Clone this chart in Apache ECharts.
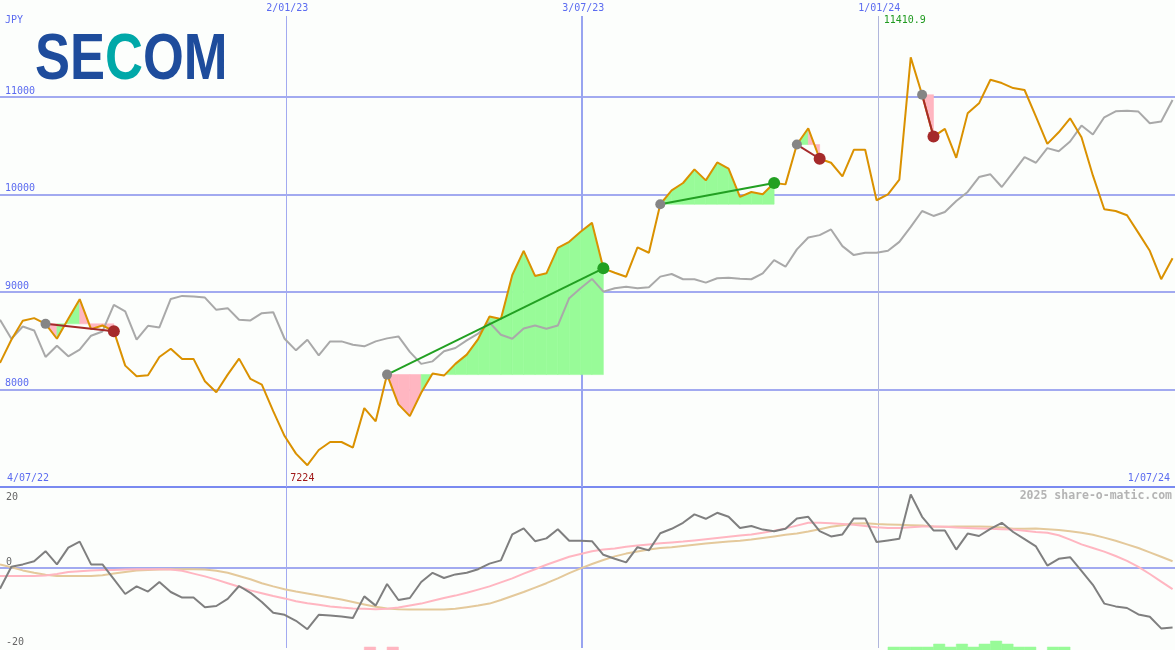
<!DOCTYPE html>
<html><head><meta charset="utf-8">
<script src="https://cdn.jsdelivr.net/npm/echarts@6/dist/echarts.min.js"></script>
<style>html,body{margin:0;padding:0;background:#fcfefc}#c{width:1175px;height:650px}</style>
</head><body><div id="c"></div>
<script>
// ---------- data ----------
const firstWeek = '2022-07-10';          // date of the first weekly point
const axisEnd = '2024-07-01';            // right edge of the time axis
const periodDates = ['2022-07-04', '2024-07-01'];
const dateMarks = ['2023-01-02', '2023-07-03', '2024-01-01'];
const currencyLabel = 'JPY';
const priceGridLines = [8000, 9000, 10000, 11000];
const oscLabels = [20, 0, -20];
const oscGridLines = [0];
const watermark = '2025 share-o-matic.com';

const price = [8274, 8512, 8706, 8734, 8675, 8522, 8727, 8928, 8621, 8658,
 8600, 8246, 8137, 8147, 8335, 8420, 8315, 8315, 8086, 7973,
 8154, 8318, 8110, 8052, 7779, 7523, 7343, 7224, 7380, 7462,
 7462, 7405, 7810, 7674, 8154, 7848, 7728, 7967, 8165, 8144,
 8264, 8359, 8519, 8750, 8724, 9177, 9425, 9167, 9194, 9456,
 9517, 9620, 9712, 9245, 9200, 9159, 9460, 9405, 9903, 10046,
 10121, 10261, 10148, 10332, 10268, 9978, 10029, 10005, 10121, 10107,
 10516, 10683, 10370, 10329, 10189, 10462, 10462, 9944, 10005, 10155,
 11410.9, 11027, 10598, 10677, 10380, 10836, 10939, 11181, 11147, 11096,
 11076, 10803, 10523, 10642, 10785, 10591, 10199, 9852, 9834, 9790,
 9609, 9425, 9133, 9348];

const relative = [8717, 8522, 8648, 8607, 8335, 8451, 8342, 8410, 8553, 8597,
 8870, 8802, 8512, 8655, 8638, 8931, 8962, 8955, 8945, 8819,
 8836, 8717, 8710, 8785, 8795, 8522, 8403, 8512, 8352, 8495,
 8495, 8461, 8444, 8495, 8526, 8546, 8387, 8264, 8290, 8393,
 8427, 8505, 8574, 8689, 8563, 8522, 8628, 8658, 8625, 8658,
 8939, 9041, 9136, 9006, 9041, 9057, 9041, 9051, 9160, 9187,
 9133, 9133, 9098, 9143, 9149, 9139, 9133, 9194, 9330, 9262,
 9440, 9562, 9586, 9644, 9473, 9381, 9405, 9405, 9425, 9517,
 9671, 9834, 9783, 9824, 9937, 10029, 10182, 10210, 10080, 10233,
 10387, 10329, 10479, 10448, 10547, 10711, 10619, 10796, 10857, 10864,
 10854, 10734, 10752, 10973];

const momentum = [-5.2, 0.3, 0.9, 1.7, 4.2, 0.9, 5.1, 6.6, 0.9, 0.9,
 -2.8, -6.5, -4.6, -5.9, -3.5, -6.0, -7.4, -7.4, -9.8, -9.5,
 -7.7, -4.5, -6.2, -8.5, -11.2, -11.7, -13.2, -15.3, -11.7, -11.9,
 -12.1, -12.5, -7.1, -9.4, -4.0, -8.0, -7.5, -3.5, -1.2, -2.5,
 -1.6, -1.2, -0.3, 1.1, 1.9, 8.4, 9.9, 6.7, 7.4, 9.7,
 6.8, 6.8, 6.7, 3.3, 2.3, 1.4, 5.2, 4.4, 8.7, 9.8,
 11.3, 13.4, 12.3, 13.8, 12.8, 10.0, 10.5, 9.6, 9.2, 9.8,
 12.4, 12.8, 9.2, 7.9, 8.4, 12.4, 12.4, 6.5, 6.9, 7.3,
 18.4, 12.8, 9.4, 9.4, 4.6, 8.6, 8.0, 9.8, 11.3, 9.0,
 7.2, 5.4, 0.6, 2.3, 2.7, -0.7, -4.2, -8.9, -9.6, -10.0,
 -11.6, -12.2, -15.1, -14.9];

const avgFast = [-2.0, -2.0, -2.0, -2.0, -1.9, -1.5, -1.0, -0.8, -0.6, -0.5,
 -0.5, -0.4, -0.3, -0.3, -0.3, -0.4, -0.7, -1.4, -2.1, -2.9,
 -3.8, -4.7, -5.6, -6.3, -7.0, -7.6, -8.3, -8.8, -9.2, -9.6,
 -9.9, -10.1, -10.2, -10.3, -10.2, -9.9, -9.4, -8.9, -8.2, -7.5,
 -6.9, -6.2, -5.4, -4.6, -3.6, -2.6, -1.4, -0.3, 0.8, 1.8,
 2.8, 3.5, 4.2, 4.6, 4.9, 5.3, 5.6, 5.9, 6.2, 6.4,
 6.6, 6.9, 7.2, 7.5, 7.8, 8.1, 8.4, 8.8, 9.3, 9.9,
 10.6, 11.3, 11.3, 11.2, 11.0, 10.8, 10.5, 10.2, 10.0, 10.0,
 10.2, 10.4, 10.4, 10.3, 10.1, 10.0, 9.9, 9.8, 9.7, 9.6,
 9.3, 9.0, 8.8, 8.2, 7.1, 5.9, 5.0, 4.1, 3.0, 1.8,
 0.3, -1.5, -3.4, -5.3];

const avgSlow = [0.9, 0.2, -0.6, -1.2, -1.7, -2.0, -2.0, -2.0, -2.0, -1.8,
 -1.4, -1.0, -0.6, -0.5, -0.4, -0.3, -0.3, -0.3, -0.4, -0.7,
 -1.2, -2.0, -2.8, -3.8, -4.6, -5.3, -5.9, -6.4, -6.9, -7.4,
 -7.9, -8.5, -9.1, -9.7, -10.1, -10.3, -10.4, -10.4, -10.4, -10.4,
 -10.2, -9.8, -9.4, -8.9, -8.0, -7.0, -6.0, -4.9, -3.8, -2.6,
 -1.3, -0.1, 1.0, 2.0, 2.9, 3.6, 4.1, 4.6, 5.0, 5.2,
 5.5, 5.8, 6.1, 6.4, 6.6, 6.8, 7.1, 7.5, 7.9, 8.3,
 8.6, 9.1, 9.7, 10.3, 10.7, 11.1, 11.2, 11.0, 10.9, 10.8,
 10.7, 10.6, 10.4, 10.3, 10.4, 10.4, 10.4, 10.3, 10.1, 9.8,
 9.8, 9.9, 9.7, 9.5, 9.2, 8.8, 8.3, 7.6, 6.8, 5.9,
 5.0, 3.9, 2.8, 1.7];

// trades: [entry week, exit week]
const trades = [[4, 10], [34, 53], [58, 68], [70, 72], [81, 82]];
// signal bars: [week, level]  (+ = buy / green, - = sell / pink)
const signals = [[32, -1], [34, -1], [78, 1], [79, 1], [80, 1], [81, 1], [82, 2], [83, 1], [84, 2], [85, 1],
 [86, 2], [87, 3], [88, 2], [89, 1], [90, 1], [92, 1], [93, 1]];

// ---------- styles ----------
const BLUE = '#5b6bf0';
const GRIDC = '#a2aaf0';
const GREEN = '#98fb98';
const PINK = '#ffb6c1';
const FONT = '10px "DejaVu Sans Mono"';
const dateMarkStyles = [{color: '#a2aaf0', width: 1}, {color: '#98a4f0', width: 2}, {color: '#b0b6dc', width: 1}];

// ---------- helpers ----------
const DAY = 86400000, WEEK = 7 * DAY;
const T0 = Date.parse(firstWeek);
const weekTime = k => T0 + k * WEEK;
const X_MIN = T0, X_MAX = Date.parse(axisEnd) + DAY / 2;
const dateMarkTs = dateMarks.map(d => Date.parse(d));
const periodTs = periodDates.map(d => Date.parse(d));
const fmtDate = t => { const d = new Date(t); return d.getUTCDate() + '/' + String(d.getUTCMonth() + 1).padStart(2, '0') + '/' + String(d.getUTCFullYear()).slice(2); };
const series2 = arr => arr.map((v, k) => [weekTime(k), v]);

function hLineItem(params, api) {
  const cs = params.coordSys;
  const y = Math.round(api.coord([api.value(0), api.value(1)])[1]);
  return {type: 'line', shape: {x1: cs.x, y1: y, x2: cs.x + cs.width, y2: y}, style: {stroke: GRIDC, lineWidth: 2}};
}
function vLineItem(top) {
  return function (params, api) {
    const cs = params.coordSys;
    const st = dateMarkStyles[params.dataIndex];
    let x = api.coord([api.value(0), api.value(1)])[0];
    x = st.width % 2 ? Math.round(x - 0.5) + 0.5 : Math.round(x);
    return {type: 'line', shape: {x1: x, y1: cs.y + top, x2: x, y2: cs.y + cs.height}, style: {stroke: st.color, lineWidth: st.width}};
  };
}
function fillItem(params, api) {
  const [e, x] = trades[params.dataIndex];
  const base = price[e];
  const kids = [];
  for (let k = e; k < x; k++) {
    const pts = [api.coord([weekTime(k), base]), api.coord([weekTime(k), price[k]]),
                 api.coord([weekTime(k + 1), price[k + 1]]), api.coord([weekTime(k + 1), base])];
    const c = price[k + 1] >= base ? GREEN : PINK;
    kids.push({type: 'polygon', shape: {points: pts}, style: {fill: c, stroke: c, lineWidth: 0.6}});
  }
  return {type: 'group', children: kids};
}
function tradeItem(params, api) {
  const [e, x] = trades[params.dataIndex];
  const p0 = api.coord([weekTime(e), price[e]]);
  const p1 = api.coord([weekTime(x), price[x]]);
  const col = price[x] > price[e] ? '#22a022' : '#a52a2a';
  return {type: 'group', children: [
    {type: 'line', shape: {x1: p0[0], y1: p0[1], x2: p1[0], y2: p1[1]}, style: {stroke: col, lineWidth: 2}},
    {type: 'circle', shape: {cx: p0[0], cy: p0[1], r: 5}, style: {fill: '#858585'}},
    {type: 'circle', shape: {cx: p1[0], cy: p1[1], r: 6}, style: {fill: col}}
  ]};
}
function barItem(params, api) {
  const [k, lvl] = signals[params.dataIndex];
  const p0 = api.coord([weekTime(k), Math.abs(lvl)]);
  const p1 = api.coord([weekTime(k + 1), 0]);
  const c = lvl > 0 ? GREEN : PINK;
  return {type: 'rect', shape: {x: p0[0], y: p0[1], width: p1[0] - p0[0], height: p1[1] - p0[1]}, style: {fill: c, stroke: c, lineWidth: 0.5}};
}
const lineS = (xi, data, color, z) => ({type: 'line', xAxisIndex: xi, yAxisIndex: xi, data, z, showSymbol: false, symbol: 'none',
  silent: true, lineStyle: {color, width: 2}, emphasis: {disabled: true}, animation: false});

const chart = echarts.init(document.getElementById('c'));
chart.setOption({
  animation: false,
  backgroundColor: '#fcfefc',
  grid: [
    {left: 0, right: 0, top: 0, height: 487, outerBoundsMode: 'none'},
    {left: 0, right: 0, top: 488, height: 160, outerBoundsMode: 'none'},
    {left: 0, right: 0, top: 488, height: 162, outerBoundsMode: 'none'}
  ],
  xAxis: [
    {gridIndex: 0, type: 'time', min: X_MIN, max: X_MAX, axisLine: {show: true, onZero: false, lineStyle: {color: '#7a8af0', width: 2}},
      axisTick: {show: false}, axisLabel: {show: false}, splitLine: {show: false}},
    {gridIndex: 1, type: 'time', min: X_MIN, max: X_MAX, show: false},
    {gridIndex: 2, type: 'time', min: X_MIN, max: X_MAX, show: false}
  ],
  yAxis: [
    {gridIndex: 0, type: 'value', min: 7000, max: 12000, show: false},
    {gridIndex: 1, type: 'value', min: -20, max: 20, show: false},
    {gridIndex: 2, type: 'value', min: 0, max: 54, show: false}
  ],
  series: [
    {type: 'custom', xAxisIndex: 0, yAxisIndex: 0, z: 1, silent: true, data: priceGridLines.map(v => [X_MIN, v]), renderItem: hLineItem},
    {type: 'custom', xAxisIndex: 0, yAxisIndex: 0, z: 1, silent: true, data: dateMarkTs.map(t => [t, 9000]), renderItem: vLineItem(16)},
    {type: 'custom', xAxisIndex: 0, yAxisIndex: 0, z: 2, silent: true, data: trades.map(t => [weekTime(t[0]), price[t[0]]]), renderItem: fillItem},
    lineS(0, series2(relative), '#a9a9a9', 3),
    lineS(0, series2(price), '#da9100', 4),
    {type: 'custom', xAxisIndex: 0, yAxisIndex: 0, z: 5, silent: true, data: trades.map(t => [weekTime(t[0]), price[t[0]]]), renderItem: tradeItem},
    {type: 'custom', xAxisIndex: 1, yAxisIndex: 1, z: 1, silent: true, data: oscGridLines.map(v => [X_MIN, v]), renderItem: hLineItem},
    {type: 'custom', xAxisIndex: 1, yAxisIndex: 1, z: 1, silent: true, data: dateMarkTs.map(t => [t, 0]), renderItem: vLineItem(0)},
    {type: 'custom', xAxisIndex: 2, yAxisIndex: 2, z: 2, silent: true, data: signals.map(s => [weekTime(s[0]), Math.abs(s[1])]), renderItem: barItem},
    lineS(1, series2(avgSlow), '#e4c99b', 3),
    lineS(1, series2(avgFast), '#ffb6c1', 4),
    lineS(1, series2(momentum), '#7f7f7f', 5)
  ]
});

// ---------- texts placed through the axes ----------
const els = [];
function T(x, y, text, fill, align, valign, font) {
  els.push({type: 'text', x, y, silent: true, z: 100,
    style: {text, fill, font: font || FONT, align, verticalAlign: valign, textAlign: align, textVerticalAlign: valign}});
}
const pxX = t => chart.convertToPixel({xAxisIndex: 0}, t);
dateMarkTs.forEach(t => T(pxX(t) + 1, 8, fmtDate(t), BLUE, 'center', 'middle'));
T(5, 20, currencyLabel, BLUE, 'left', 'middle');
priceGridLines.forEach(v => T(5, chart.convertToPixel({yAxisIndex: 0}, v) - 1, String(v), BLUE, 'left', 'bottom'));
const kMax = price.indexOf(Math.max(...price));
const kMin = price.indexOf(Math.min(...price));
T(pxX(weekTime(kMax)) - 6, 20, String(price[kMax]), '#1f9a1f', 'center', 'middle');
T(pxX(weekTime(kMin)) - 5, 478, String(price[kMin]), '#a01818', 'center', 'middle');
T(7, 478, fmtDate(periodTs[0]), BLUE, 'left', 'middle');
T(1170, 478, fmtDate(periodTs[1]), BLUE, 'right', 'middle');
oscLabels.forEach(v => {
  const y = chart.convertToPixel({yAxisIndex: 1}, v);
  if (y - 12 < 488) T(6, y + 4, String(v), '#666666', 'left', 'top');
  else T(6, y - 1, String(v), '#666666', 'left', 'bottom');
});
T(1172, 496, watermark, '#b4b4b4', 'right', 'middle', 'bold 11.5px "DejaVu Sans Mono"');
els.push({type: 'text', x: 35, y: 29, scaleX: 0.82, silent: true, z: 100,
  style: {text: '{a|SE}{b|C}{a|OM}', verticalAlign: 'top', textVerticalAlign: 'top',
    rich: {a: {fill: '#1e4c9c', fontSize: 64, fontWeight: 'bold', fontFamily: 'Liberation Sans'},
           b: {fill: '#00a8a8', fontSize: 64, fontWeight: 'bold', fontFamily: 'Liberation Sans'}}}});
chart.setOption({graphic: els});
</script></body></html>
